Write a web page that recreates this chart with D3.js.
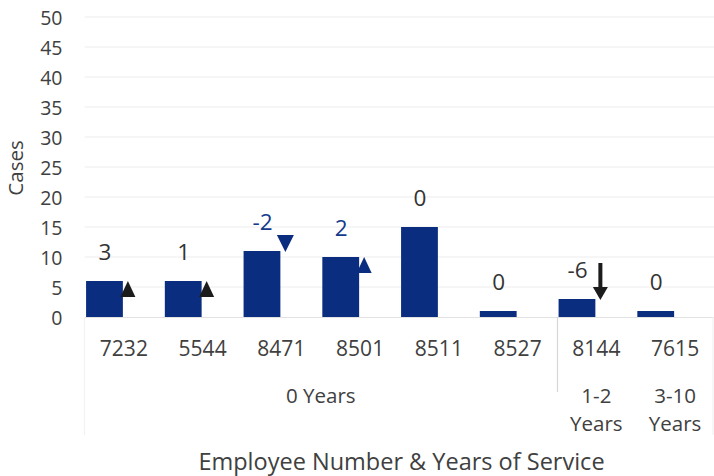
<!DOCTYPE html>
<html>
<head>
<meta charset="utf-8">
<script src="https://cdn.jsdelivr.net/npm/d3@7"></script>
<style>
  html, body { margin: 0; padding: 0; background: #ffffff; }
  svg { display: block; }
  text { font-family: "Open Sans", "Noto Sans", sans-serif; }
</style>
</head>
<body>
<svg id="chart" width="714" height="476"></svg>
<script>
// ---- data ----
const employees = ["7232", "5544", "8471", "8501", "8511", "8527", "8144", "7615"];
const serviceGroups = ["0 Years", "0 Years", "0 Years", "0 Years", "0 Years", "0 Years", "1-2 Years", "3-10 Years"];
const cases = [6, 6, 11, 10, 15, 1, 3, 1];
const changes = [3, 1, -2, 2, 0, 0, -6, 0];
const markerTypes = ["up", "up", "down", "up", null, null, "arrow", null];
const highlighted = ["8471", "8501"];
const yTicks = [0, 5, 10, 15, 20, 25, 30, 35, 40, 45, 50];
const yTitle = "Cases";
const xTitle = "Employee Number & Years of Service";

// ---- layout ----
const svg = d3.select("#chart");
const plotLeft = 84.5, plotRight = 714.5, plotTop = 17, plotBottom = 317;
const barColor = "#0b2d80";
const blueText = "#143a8c";
const darkText = "#333333";
const axisText = "#404040";

const x0 = d3.scaleBand().domain(employees).range([plotLeft, plotRight])
  .paddingInner(0.04).paddingOuter(0.02);
const x1 = d3.scaleBand().domain(["cases", "marker"]).range([0, x0.bandwidth()]);
const y = d3.scaleLinear().domain([0, 50]).range([plotBottom, plotTop]);
const step = x0.step();
const bandStart = d => x0(d) - (x0.step() - x0.bandwidth()) / 2;
const catCenter = d => bandStart(d) + step / 2;

// gridlines
svg.append("g")
  .selectAll("line").data(yTicks.filter(t => t > 0)).join("line")
  .attr("x1", plotLeft).attr("x2", plotRight)
  .attr("y1", d => y(d)).attr("y2", d => y(d))
  .attr("stroke", "#ededed").attr("stroke-width", 1.2);

// y axis labels
const yAxis = d3.axisLeft(y).tickValues(yTicks).tickSize(0).tickPadding(0);
const yg = svg.append("g").attr("transform", `translate(${plotLeft - 22},0)`).call(yAxis);
yg.select(".domain").remove();
yg.selectAll("text").attr("font-size", 19.5).attr("fill", axisText)
  .attr("font-family", '"Open Sans", sans-serif').attr("dy", "0.36em");

// baseline
svg.append("line").attr("x1", plotLeft).attr("x2", plotRight)
  .attr("y1", plotBottom + 0.5).attr("y2", plotBottom + 0.5)
  .attr("stroke", "#e2e2e2").attr("stroke-width", 1);

// bars
svg.append("g").selectAll("rect").data(employees).join("rect")
  .attr("x", (d) => x0(d) + x1("cases"))
  .attr("width", x1.bandwidth() - 1)
  .attr("y", (d, i) => y(cases[i]))
  .attr("height", (d, i) => y(0) - y(cases[i]))
  .attr("fill", barColor);

// data labels (change values)
svg.append("g").selectAll("text").data(employees).join("text")
  .attr("x", d => x0(d) + x1("cases") + x1.bandwidth() / 2)
  .attr("y", (d, i) => y(cases[i]) - 21)
  .attr("text-anchor", "middle")
  .attr("font-size", 22.5)
  .attr("fill", d => highlighted.includes(d) ? blueText : darkText)
  .text((d, i) => changes[i]);

// markers
const mg = svg.append("g");
employees.forEach((d, i) => {
  const t = markerTypes[i];
  if (!t) return;
  const cx = x0(d) + x1("marker") + 4;
  const ty = y(cases[i]);
  const col = highlighted.includes(d) ? barColor : "#1c1c1c";
  if (t === "up") {
    mg.append("path")
      .attr("d", `M${cx},${ty} L${cx + 7.5},${ty + 16} L${cx - 7.5},${ty + 16} Z`)
      .attr("fill", col);
  } else if (t === "down") {
    mg.append("path")
      .attr("d", `M${cx},${ty + 1} L${cx + 8.5},${ty - 16} L${cx - 8.5},${ty - 16} Z`)
      .attr("fill", col);
  } else if (t === "arrow") {
    const tip = ty + 1;
    mg.append("rect").attr("x", cx - 2).attr("y", tip - 37).attr("width", 4).attr("height", 27)
      .attr("fill", col);
    mg.append("path")
      .attr("d", `M${cx},${tip} L${cx + 7.5},${tip - 13} L${cx - 7.5},${tip - 13} Z`)
      .attr("fill", col);
  }
});

// category labels
svg.append("g").selectAll("text").data(employees).join("text")
  .attr("x", d => catCenter(d))
  .attr("y", 356)
  .attr("text-anchor", "middle")
  .attr("font-size", 21)
  .attr("fill", axisText)
  .text(d => d);

// group labels
const groups = d3.groups(employees.map((e, i) => ({ e, g: serviceGroups[i] })), d => d.g);
groups.forEach(([g, items]) => {
  const first = items[0].e, last = items[items.length - 1].e;
  const cx = (bandStart(first) + bandStart(last) + step) / 2;
  const txt = svg.append("text").attr("text-anchor", "middle")
    .attr("font-size", 20.5).attr("fill", axisText);
  if (items.length > 1) {
    txt.attr("x", cx).attr("y", 403).text(g);
  } else {
    const parts = g.split(" ");
    txt.append("tspan").attr("x", cx).attr("y", 403).text(parts[0]);
    txt.append("tspan").attr("x", cx).attr("y", 431).text(parts.slice(1).join(" "));
  }
});

// group separators
const sepIdx = employees.findIndex((e, i) => i > 0 && serviceGroups[i] !== serviceGroups[i - 1]);
svg.append("line")
  .attr("x1", bandStart(employees[sepIdx]) + 0.5).attr("x2", bandStart(employees[sepIdx]) + 0.5)
  .attr("y1", plotBottom).attr("y2", 392)
  .attr("stroke", "#d6d6d6").attr("stroke-width", 1.2);
[plotLeft, plotRight - 1.5].forEach(xx => {
  svg.append("line").attr("x1", xx).attr("x2", xx)
    .attr("y1", plotBottom).attr("y2", 435)
    .attr("stroke", "#f2f2f2").attr("stroke-width", 1.2);
});

// axis titles
svg.append("text")
  .attr("transform", `translate(23,${(plotTop + plotBottom) / 2 + 1}) rotate(-90)`)
  .attr("text-anchor", "middle")
  .attr("font-size", 20.5).attr("fill", axisText)
  .text(yTitle);

svg.append("text")
  .attr("x", 401.5)
  .attr("y", 470)
  .attr("text-anchor", "middle")
  .attr("font-size", 23.5).attr("fill", axisText)
  .text(xTitle);
</script>
</body>
</html>
